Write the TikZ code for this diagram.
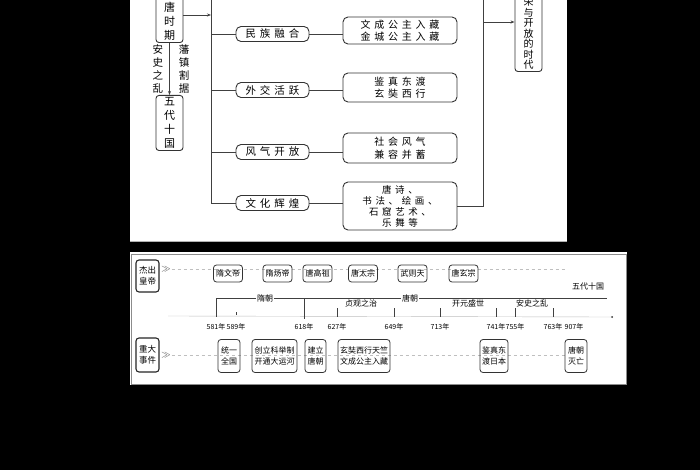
\documentclass[tikz,border=0pt]{standalone}
\usepackage{fontspec}
\newfontfamily\cjk{Noto Sans CJK SC}
\newfontfamily\cjkspaced[LetterSpace=38]{Noto Sans CJK SC}
\usetikzlibrary{
	shapes,
	calc,
	arrows.meta}

\begin{document}
\begin{tikzpicture}[x=1pt,y=-1pt,every text node part/.style={align=center}]
  \tikzstyle{column}=[draw=black!80,line width=0.9pt,rounded corners=3pt,
    minimum width=27pt,inner sep=2pt,font=\cjk\fontsize{11}{14}\selectfont]
  \tikzstyle{aspect}=[draw=black!80,line width=0.9pt,rounded corners=5pt,
    minimum width=73pt,minimum height=15pt,inner sep=1pt,
    font=\cjkspaced\fontsize{10.5}{12}\selectfont]
  \tikzstyle{detail}=[draw=black!80,line width=0.9pt,rounded corners=5pt,
    minimum width=114pt,inner sep=2pt,
    font=\cjkspaced\fontsize{10}{12.5}\selectfont]
  \tikzstyle{side}=[inner sep=1pt,font=\cjk\fontsize{10.5}{13}\selectfont]
  \tikzstyle{link}=[draw=black!75,line width=0.8pt]
  \tikzstyle{rowhead}=[draw=black!85,line width=1.1pt,rounded corners=3pt,
    minimum width=23pt,inner sep=1.5pt,font=\cjk\fontsize{8.5}{11}\selectfont]
  \tikzstyle{ruler}=[draw=black!80,line width=0.8pt,rounded corners=3pt,
    minimum width=29pt,minimum height=17pt,inner sep=1pt,
    font=\cjk\fontsize{8}{10}\selectfont]
  \tikzstyle{event}=[draw=black!80,line width=0.8pt,rounded corners=3pt,
    minimum height=33pt,inner sep=2pt,font=\cjk\fontsize{8}{11}\selectfont]
  \tikzstyle{era}=[inner sep=1pt,fill=white,font=\cjk\fontsize{8}{10}\selectfont]
  \tikzstyle{year}=[inner sep=1pt,font=\cjk\fontsize{7}{8}\selectfont]
  \tikzstyle{notch}=[draw=black!75,line width=0.6pt]
  \tikzstyle{chevron}=[inner sep=1pt,text=black!70,font=\fontsize{9}{9}\selectfont]

  \useasboundingbox (0,0) rectangle (700,470);
  \fill [black] (0,0) rectangle (700,470);
  \fill [white] (130,-2) rectangle (567,242);
  \draw [black!30] (130,241.5) -- (567,241.5);
  \fill [white] (130,252) rectangle (627,385);
  \draw [black!45,line width=1pt] (131,254) rectangle (626,384);

  \node [column,anchor=south] (suitang) at (169.5,43) {隋\\唐\\时\\期};
  \node [column,anchor=north] (wudai) at (169.5,95) {五\\代\\十\\国};
  \draw [link,-{Stealth[length=4pt]}] (suitang) --
    node [side,left=5pt] {安\\史\\之\\乱}
    node [side,right=8pt] {藩\\镇\\割\\据} (wudai);

  \coordinate (ltop) at (211,-2);
  \coordinate (lin) at (211,15);
  \draw [link,-{Stealth[length=4pt]}] (suitang.east |- lin) -- (lin);
  \node [aspect] (minzu) at (272.5,34) {民族融合};
  \node [aspect] (waijiao) at (272.5,90) {外交活跃};
  \node [aspect] (fengqi) at (272.5,152) {风气开放};
  \node [aspect] (wenhua) at (272.5,203) {文化辉煌};
  \draw [link] (ltop) -- (ltop |- wenhua.west) -- (wenhua.west);
  \draw [link] (ltop |- minzu.west) -- (minzu.west);
  \draw [link] (ltop |- waijiao.west) -- (waijiao.west);
  \draw [link] (ltop |- fengqi.west) -- (fengqi.west);

  \node [detail,minimum height=27pt] (heqin) at (400,30.5) {文成公主入藏\\金城公主入藏};
  \node [detail,minimum height=29pt] (jiaowang) at (400,87.5) {鉴真东渡\\玄奘西行};
  \node [detail,minimum height=30pt] (shehui) at (400,148) {社会风气\\兼容并蓄};
  \node [detail,minimum height=48pt,font=\cjkspaced\fontsize{9.5}{11}\selectfont]
    (yishu) at (400,206) {唐诗、\\书法、绘画、\\石窟艺术、\\乐舞等};
  \draw [link] (minzu.east) -- (minzu.east -| heqin.west);
  \draw [link] (waijiao.east) -- (waijiao.east -| jiaowang.west);
  \draw [link] (fengqi.east) -- (fengqi.east -| shehui.west);
  \draw [link] (wenhua.east) -- (wenhua.east -| yishu.west);

  \coordinate (rtop) at (483,-2);
  \coordinate (rout) at (483,22);
  \draw [link] (rtop) -- (rtop |- yishu.east) -- (yishu.east);
  \node [column,anchor=south,font=\cjk\fontsize{10}{10.5}\selectfont]
    (shidai) at (528.5,72) {繁\\荣\\与\\开\\放\\的\\时\\代};
  \draw [link,-{Stealth[length=4pt]}] (rout) -- (rout -| shidai.west);

  \node [rowhead,minimum height=32pt] (huangdi) at (147.5,276) {杰出\\皇帝};
  \node [rowhead,minimum height=34pt] (shijian) at (147.5,355) {重大\\事件};
  \node [chevron] (go1) at (166,269) {$\gg$};
  \node [chevron] (go2) at (166,355) {$\gg$};
  \coordinate (hend) at (565,269);
  \coordinate (send) at (565,355);
  \draw [black!25,dashed] (go1.east) -- (hend);
  \draw [black!25,dashed] (go2.east) -- (send);

  \node [ruler] (wendi) at (228,273.5) {隋文帝};
  \node [ruler] (yangdi) at (277.5,273.5) {隋炀帝};
  \node [ruler] (gaozu) at (317.5,273.5) {唐高祖};
  \node [ruler] (taizong) at (363,273.5) {唐太宗};
  \node [ruler] (wuhou) at (412.5,273.5) {武则天};
  \node [ruler] (xuanzong) at (463.5,273.5) {唐玄宗};

  \coordinate (ax0) at (168,316);
  \coordinate (axend) at (612,317);
  \draw [black!25] (ax0) -- (axend);
  \fill [black!80] (axend) circle (1pt);

  \node [year] (y581) at (216,327) {581年};
  \node [year] (y589) at (236,327) {589年};
  \node [year] (y618) at (304,327) {618年};
  \node [year] (y627) at (337,327) {627年};
  \node [year] (y649) at (394,327) {649年};
  \node [year] (y713) at (440,327) {713年};
  \node [year] (y741) at (496,327) {741年};
  \node [year] (y755) at (515,327) {755年};
  \node [year] (y763) at (553,327) {763年};
  \node [year] (y907) at (574,327) {907年};

  \coordinate (tangend) at (607,298);
  \draw [link,line width=0.7pt] ([yshift=6pt]y581.north) |- (tangend);
  \draw [link,line width=0.7pt] ([yshift=4pt]y618.north) -- (y618.north |- tangend);
  \node [era] (sui) at (265,298) {隋朝};
  \node [era] (tang) at (410,298) {唐朝};
  \node [era,fill=none] (shiguo) at (588,286) {五代十国};
  \foreach \y in {y627,y649,y713,y741,y755,y763}
    \draw [notch] ([yshift=6pt]\y.north) -- ++(0,-9);
  \draw [notch] ([yshift=8pt]y589.north) -- ++(0,-3);
  \node [era,fill=none] (zhenguan) at (361,303) {贞观之治};
  \node [era,fill=none] (kaiyuan) at (468,303) {开元盛世};
  \node [era,fill=none] (anshi) at (532,303) {安史之乱};

  \node [event,minimum width=22pt] (tongyi) at (229,356) {统一\\全国};
  \node [event,minimum width=45pt] (keju) at (274.5,356) {创立科举制\\开通大运河};
  \node [event,minimum width=21pt] (jianli) at (315.5,356) {建立\\唐朝};
  \node [event,minimum width=52pt] (xixing) at (364,356) {玄奘西行天竺\\文成公主入藏};
  \node [event,minimum width=28pt] (dongdu) at (494,356) {鉴真东\\渡日本};
  \node [event,minimum width=22pt] (miewang) at (576,356) {唐朝\\灭亡};
\end{tikzpicture}
\end{document}
